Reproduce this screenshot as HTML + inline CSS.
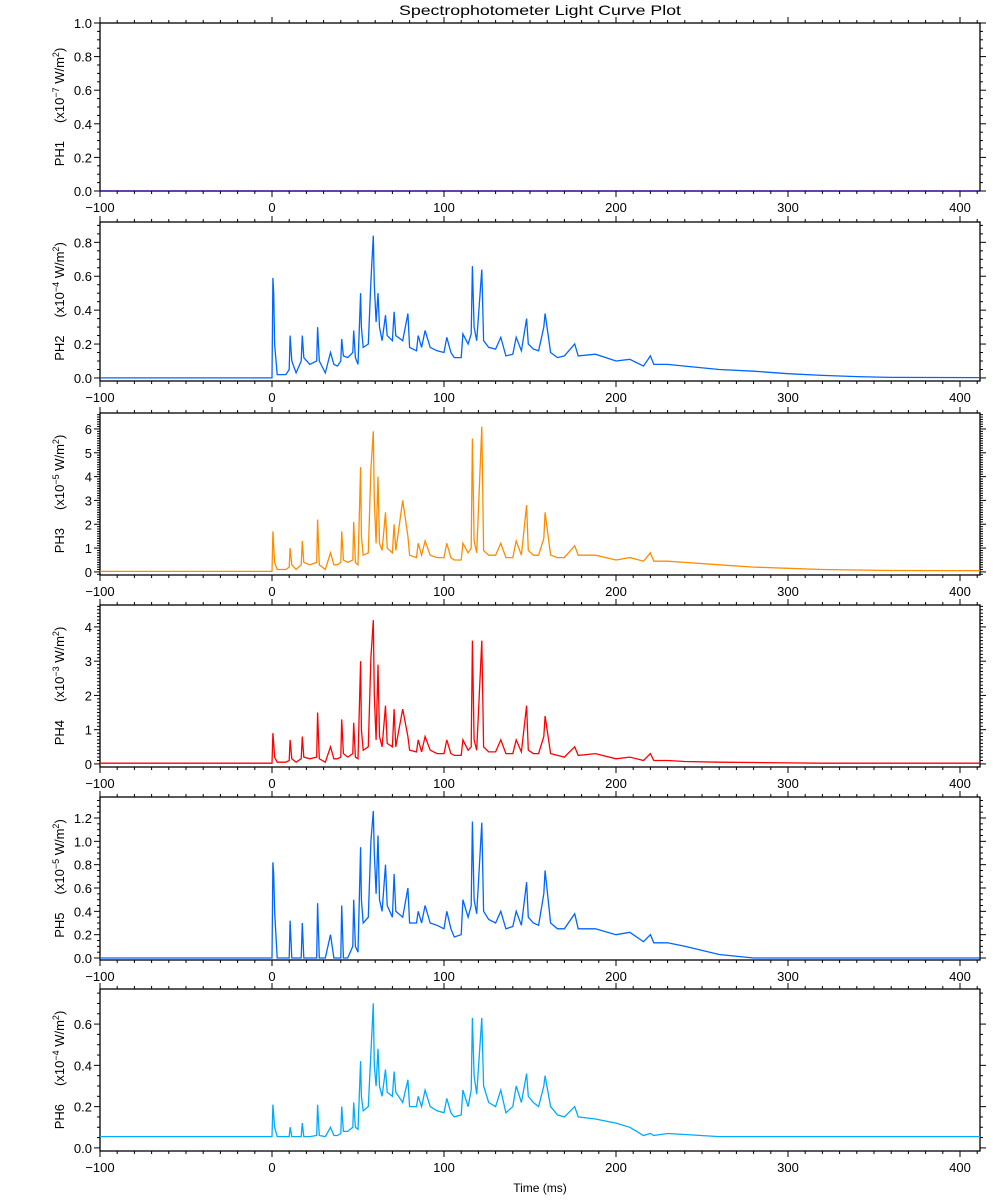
<!DOCTYPE html>
<html><head><meta charset="utf-8"><style>
body{margin:0;background:#fff;}
svg{display:block;font-family:"Liberation Sans",sans-serif;}
</style></head><body>
<svg id="chart" width="1000" height="1200" viewBox="0 0 1000 1200" xmlns="http://www.w3.org/2000/svg">
<text x="540" y="15" font-size="14" text-anchor="middle" textLength="282" lengthAdjust="spacingAndGlyphs">Spectrophotometer Light Curve Plot</text>
<text x="540" y="1192" font-size="12" text-anchor="middle">Time (ms)</text>
</svg>
<script>
const times = [-100,0,0.5,1,1.5,3,8,10,10.5,11.5,
14,17,17.6,18.5,22,26,26.5,27.5,31,34,
36,38,40,40.5,41.5,44,47,47.5,48.5,50,
51.5,52,53,56,57.5,58.9,59.5,60.5,61.6,62.5,
64,66,67,70,71,72,76,79,80,84,
85,87,89,92,96,100,101.6,104,106,110,
111,114,115.8,116.5,117.5,119,122,123,126,130,
133,136,140,142,145,148,149,152,155,158,
158.8,162,166,170,176,178,188,200,208,216,
220,222,230,240,260,280,300,320,340,360,
412];
const ph1 = times.map(()=>0);
const ph2 = [0,0,0.59,0.5,0.2,0.02,0.02,0.05,0.25,0.1,
0.03,0.1,0.25,0.12,0.08,0.1,0.3,0.1,0.03,0.15,
0.08,0.07,0.1,0.23,0.13,0.12,0.15,0.28,0.12,0.08,
0.5,0.3,0.18,0.2,0.57,0.84,0.55,0.33,0.5,0.3,
0.22,0.37,0.25,0.22,0.39,0.25,0.22,0.38,0.18,0.16,
0.25,0.18,0.28,0.18,0.16,0.15,0.24,0.15,0.12,0.12,
0.26,0.2,0.26,0.66,0.3,0.22,0.64,0.22,0.18,0.17,
0.24,0.13,0.14,0.24,0.16,0.35,0.2,0.17,0.16,0.3,
0.38,0.15,0.12,0.13,0.2,0.13,0.14,0.1,0.11,0.07,
0.13,0.08,0.08,0.07,0.05,0.04,0.025,0.015,0.008,0.003,
0.002];
const ph3 = [0.02,0.02,1.7,1.1,0.4,0.1,0.1,0.2,1.0,0.3,
0.1,0.3,1.3,0.4,0.3,0.4,2.2,0.3,0.1,0.8,
0.3,0.3,0.4,1.7,0.5,0.4,0.5,2.1,0.4,0.3,
4.4,1.5,0.7,0.8,4.3,5.9,3.0,1.2,4.0,1.2,
0.9,2.5,1.0,0.8,2.0,0.9,3.0,1.5,0.7,0.6,
1.2,0.7,1.3,0.7,0.6,0.6,1.2,0.6,0.5,0.5,
1.2,0.8,1.0,5.6,1.3,0.8,6.1,0.9,0.7,0.7,
1.2,0.6,0.6,1.3,0.7,2.8,0.9,0.7,0.7,1.4,
2.5,0.7,0.6,0.6,1.1,0.7,0.7,0.5,0.6,0.45,
0.8,0.45,0.45,0.4,0.3,0.2,0.15,0.1,0.08,0.06,
0.05];
const ph4 = [0.02,0.02,0.9,0.6,0.2,0.05,0.05,0.1,0.7,0.15,
0.05,0.15,0.8,0.2,0.15,0.2,1.5,0.15,0.05,0.5,
0.15,0.15,0.2,1.3,0.3,0.2,0.3,1.2,0.2,0.15,
3.0,1.0,0.4,0.5,3.1,4.2,2.0,0.7,2.9,0.8,
0.5,1.7,0.6,0.5,1.6,0.5,1.6,0.8,0.4,0.35,
0.7,0.35,0.8,0.4,0.3,0.3,0.7,0.3,0.25,0.25,
0.7,0.4,0.5,3.6,0.7,0.4,3.6,0.5,0.35,0.35,
0.7,0.3,0.3,0.7,0.35,1.7,0.4,0.3,0.3,0.8,
1.4,0.3,0.25,0.2,0.5,0.25,0.3,0.15,0.2,0.1,
0.3,0.1,0.1,0.07,0.05,0.04,0.03,0.02,0.02,0.02,
0.02];
const ph5 = [0,0,0.82,0.72,0.4,0,0,0,0.32,0,
0,0,0.3,0,0,0,0.47,0,0,0.2,
0,0,0,0.45,0,0,0.1,0.5,0.1,0.05,
0.95,0.5,0.3,0.35,1.0,1.26,0.9,0.55,1.05,0.5,
0.4,0.8,0.45,0.35,0.72,0.4,0.35,0.6,0.3,0.3,
0.4,0.3,0.45,0.3,0.28,0.25,0.4,0.25,0.18,0.2,
0.5,0.35,0.45,1.17,0.5,0.38,1.16,0.4,0.33,0.3,
0.4,0.25,0.27,0.4,0.28,0.65,0.35,0.3,0.28,0.55,
0.75,0.3,0.25,0.25,0.38,0.25,0.25,0.2,0.22,0.14,
0.2,0.13,0.13,0.1,0.03,0,0,0,0,0,
0];
const ph6 = [0.055,0.055,0.21,0.16,0.1,0.055,0.055,0.055,0.1,0.055,
0.055,0.055,0.12,0.055,0.055,0.06,0.21,0.06,0.055,0.1,
0.06,0.06,0.07,0.2,0.08,0.08,0.1,0.22,0.1,0.09,
0.42,0.25,0.18,0.2,0.46,0.7,0.4,0.3,0.48,0.3,
0.25,0.38,0.27,0.25,0.37,0.27,0.22,0.33,0.2,0.2,
0.25,0.2,0.28,0.2,0.18,0.17,0.24,0.17,0.15,0.16,
0.28,0.2,0.28,0.63,0.35,0.26,0.63,0.3,0.22,0.2,
0.28,0.17,0.2,0.3,0.22,0.36,0.25,0.22,0.2,0.3,
0.35,0.2,0.16,0.15,0.2,0.15,0.14,0.12,0.1,0.06,
0.07,0.06,0.07,0.065,0.055,0.055,0.055,0.055,0.055,0.055,
0.055];
const xTickLabels = [-100,0,100,200,300,400];
const panelNames = ["PH1","PH2","PH3","PH4","PH5","PH6"];
const panelExps = ["-7","-4","-5","-3","-5","-4"];
const panelSeries = [ph1,ph2,ph3,ph4,ph5,ph6];
const yMins = [0,-0.018,-0.13,-0.09,-0.017,-0.015];
const yMaxs = [1.0,0.92,6.67,4.64,1.38,0.77];
const yMajors = [0.2,0.2,1,1,0.2,0.2];
const yMinors = [0.05,0.05,0.1,0.1,0.05,0.05];
const yDecimals = [1,1,0,0,1,1];

const svg = document.getElementById('chart');
const NS = 'http://www.w3.org/2000/svg';
const tops = [23,222,413,605,797,989];
const bots = [191,381,575,767,960,1151];
const colors = ['#3300aa','#0066ff','#ff8c00','#ff0000','#0066ff','#00aaff'];
const L = 100, R = 980;
const xScale = t => 272 + (t) * 1.72;
function mk(tag, attrs, parent){
  const e = document.createElementNS(NS, tag);
  for (const k in attrs) e.setAttribute(k, attrs[k]);
  (parent||svg).appendChild(e);
  return e;
}
for (let p = 0; p < 6; p++) {
  const g = mk('g', {});
  
  
  const T = tops[p], B = bots[p], y0 = yMins[p], y1 = yMaxs[p];
  const yScale = v => B - (v - y0) / (y1 - y0) * (B - T);
  const box = mk('rect', {x: L, y: T, width: R - L, height: B - T, fill: 'none', stroke: '#000', 'stroke-width': 1.3}, g);
  
  
  const pts = times.map((t, i) => xScale(Math.min(Math.max(t, -100), 411.6)).toFixed(1) + ',' + yScale(panelSeries[p][i]).toFixed(1)).join(' ');
  const line = mk('polyline', {points: pts, fill: 'none', stroke: colors[p], 'stroke-width': 1.3, 'stroke-linejoin': 'miter'}, g);
  
  
  for (let t = -100; t <= 411; t += 10) {
    const x = xScale(t);
    const major = (t % 100 === 0);
    const len = major ? 6 : 3;
    mk('line', {x1: x, x2: x, y1: B, y2: B + len, stroke: '#000', 'stroke-width': 1}, g);
    mk('line', {x1: x, x2: x, y1: T, y2: T - len, stroke: '#000', 'stroke-width': 1}, g);
  }
  xTickLabels.forEach(v => {
    const tx = mk('text', {x: xScale(v), y: B + 21, 'font-size': 13, 'text-anchor': 'middle'}, g);
    tx.textContent = v < 0 ? '\u2212' + Math.abs(v) : String(v);
    
    
  });
  const nMin = Math.ceil(y0 / yMinors[p] - 1e-6), nMax = Math.floor(y1 / yMinors[p] + 1e-6);
  const ratio = Math.round(yMajors[p] / yMinors[p]);
  for (let n = nMin; n <= nMax; n++) {
    const v = n * yMinors[p];
    const y = yScale(v);
    const major = (n % ratio === 0);
    const len = major ? 6 : 3;
    mk('line', {x1: L, x2: L - len, y1: y, y2: y, stroke: '#000', 'stroke-width': 1}, g);
    mk('line', {x1: R, x2: R + len, y1: y, y2: y, stroke: '#000', 'stroke-width': 1}, g);
    if (major && v >= -1e-9) {
      const tx = mk('text', {x: L - 8, y: y + 5, 'font-size': 13, 'text-anchor': 'end'}, g);
      tx.textContent = v.toFixed(yDecimals[p]);
      
      
    }
  }
  const cy = (T + B) / 2;
  const yt = mk('text', {x: 0, y: 0, 'font-size': 13, 'text-anchor': 'middle', transform: 'translate(64,' + cy + ') rotate(-90)'}, g);
  
  
  yt.innerHTML = panelNames[p] + '\u00a0\u00a0\u00a0\u00a0\u00a0(x10<tspan baseline-shift="super" font-size="9">' + panelExps[p].replace('-', '\u2212') + '</tspan> W/m<tspan baseline-shift="super" font-size="9">2</tspan>)';
}
</script>
</body></html>
